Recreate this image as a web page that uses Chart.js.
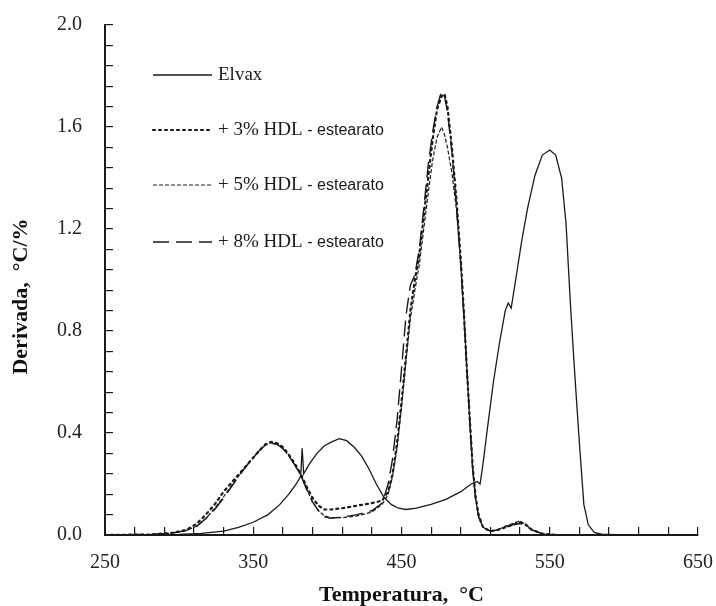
<!DOCTYPE html>
<html>
<head>
<meta charset="utf-8">
<script src="https://cdn.jsdelivr.net/npm/chart.js@4/dist/chart.umd.min.js"></script>
<style>
  html, body { margin: 0; padding: 0; background: #fff; }
  #wrap { width: 716px; height: 606px; }
</style>
</head>
<body>
<div id="wrap"><canvas id="dtgChart" width="716" height="606"></canvas></div>
<script>
// temperatures (°C) and derivative values (°C/%)
const elvaxT = [250, 280, 300, 315, 330, 340, 350, 360, 368, 374, 379, 382, 383, 384, 388, 393, 398, 403, 408, 413, 418, 423, 428, 433, 438, 443, 448, 453, 460, 470, 480, 490, 497, 501, 503, 505, 508, 512, 516, 520, 522, 524, 527, 531, 535, 540, 545, 550, 554, 558, 561, 564, 567, 570, 573, 576, 580, 585, 600, 650];
const elvaxV = [0, 0, 0.002, 0.006, 0.015, 0.03, 0.05, 0.08, 0.12, 0.16, 0.2, 0.23, 0.34, 0.24, 0.28, 0.32, 0.35, 0.365, 0.378, 0.37, 0.345, 0.31, 0.26, 0.2, 0.15, 0.12, 0.105, 0.1, 0.105, 0.12, 0.14, 0.17, 0.2, 0.21, 0.2, 0.28, 0.42, 0.6, 0.75, 0.88, 0.91, 0.89, 1.0, 1.15, 1.28, 1.41, 1.49, 1.51, 1.49, 1.4, 1.22, 0.9, 0.62, 0.36, 0.12, 0.04, 0.01, 0.003, 0, 0];

const blendT = [250, 280, 295, 305, 312, 318, 324, 330, 336, 342, 348, 354, 358, 362, 366, 370, 374, 378, 382, 386, 390, 394, 398, 402, 410, 420, 430, 437, 441, 444, 447, 450, 453, 456, 459, 462, 465, 468, 471, 474, 477, 479, 481, 484, 487, 490, 492, 494, 496, 498, 500, 502, 505, 510, 515, 520, 525, 530, 534, 538, 545, 555, 650];
const hdl3V = [0, 0.002, 0.008, 0.02, 0.045, 0.08, 0.12, 0.17, 0.21, 0.25, 0.29, 0.33, 0.355, 0.365, 0.36, 0.345, 0.315, 0.28, 0.24, 0.19, 0.145, 0.115, 0.1, 0.1, 0.105, 0.115, 0.125, 0.135, 0.17, 0.24, 0.36, 0.52, 0.7, 0.88, 1.0, 1.1, 1.25, 1.4, 1.55, 1.67, 1.72, 1.73, 1.68, 1.52, 1.32, 1.08, 0.88, 0.66, 0.46, 0.27, 0.15, 0.08, 0.03, 0.015, 0.02, 0.03, 0.04, 0.05, 0.04, 0.02, 0.005, 0, 0];
const hdl5V = [0, 0.002, 0.007, 0.018, 0.035, 0.065, 0.105, 0.15, 0.2, 0.245, 0.29, 0.33, 0.352, 0.362, 0.355, 0.34, 0.31, 0.275, 0.235, 0.18, 0.13, 0.095, 0.075, 0.068, 0.068, 0.075, 0.09, 0.12, 0.16, 0.23, 0.34, 0.5, 0.68, 0.85, 0.96, 1.06, 1.2, 1.34, 1.47, 1.56, 1.6, 1.57, 1.52, 1.42, 1.28, 1.06, 0.87, 0.66, 0.45, 0.26, 0.14, 0.07, 0.03, 0.015, 0.02, 0.035, 0.045, 0.055, 0.04, 0.02, 0.005, 0, 0];
const hdl8V = [0, 0.002, 0.007, 0.018, 0.035, 0.065, 0.1, 0.145, 0.195, 0.245, 0.29, 0.33, 0.352, 0.36, 0.356, 0.338, 0.31, 0.275, 0.235, 0.18, 0.13, 0.095, 0.072, 0.066, 0.07, 0.08, 0.095, 0.125, 0.2, 0.3, 0.45, 0.65, 0.86, 0.98, 1.02, 1.12, 1.28, 1.45, 1.58, 1.68, 1.74, 1.72, 1.66, 1.5, 1.3, 1.06, 0.87, 0.66, 0.46, 0.26, 0.14, 0.07, 0.03, 0.015, 0.02, 0.03, 0.04, 0.045, 0.035, 0.02, 0.005, 0, 0];

const seriesLabels = ['Elvax', '+ 3% HDL - estearato', '+ 5% HDL - estearato', '+ 8% HDL - estearato'];
const xTickLabels = [250, 350, 450, 550, 650];
const yTickLabels = [0.0, 0.4, 0.8, 1.2, 1.6, 2.0];

const ink = '#1a1a1a';

function toPoints(xs, ys) {
  return xs.map((x, i) => ({ x: x, y: ys[i] }));
}

// legend drawn inside the plot, like the original
const innerLegend = {
  id: 'innerLegend',
  afterDraw(chart) {
    const ctx = chart.ctx;
    const rows = [75, 130, 185, 242];
    ctx.save();
    chart.data.datasets.forEach((ds, i) => {
      const y = rows[i];
      ctx.strokeStyle = ds.borderColor;
      ctx.lineWidth = ds.borderWidth;
      ctx.setLineDash(ds.borderDash || []);
      ctx.lineCap = ds.borderCapStyle || 'butt';
      ctx.beginPath();
      ctx.moveTo(153, y);
      ctx.lineTo(212, y);
      ctx.stroke();

      const parts = ds.label.split(' - ');
      ctx.fillStyle = ink;
      ctx.textBaseline = 'middle';
      ctx.textAlign = 'left';
      ctx.font = '19px "Liberation Serif", serif';
      ctx.fillText(parts[0], 218, y);
      if (parts[1]) {
        const w = ctx.measureText(parts[0] + ' ').width;
        ctx.font = '16px "Liberation Sans", Arial, sans-serif';
        ctx.fillText('- ' + parts[1], 218 + w, y + 1);
      }
    });
    ctx.restore();
  }
};

const ctx = document.getElementById('dtgChart').getContext('2d');
new Chart(ctx, {
  type: 'line',
  data: {
    datasets: [{
      label: seriesLabels[0],
      data: toPoints(elvaxT, elvaxV),
      borderColor: ink,
      borderWidth: 1.3,
      borderDash: []
    }, {
      label: seriesLabels[1],
      data: toPoints(blendT, hdl3V),
      borderColor: ink,
      borderWidth: 2.2,
      borderDash: [2, 4],
      borderCapStyle: 'round'
    }, {
      label: seriesLabels[2],
      data: toPoints(blendT, hdl5V),
      borderColor: ink,
      borderWidth: 1.2,
      borderDash: [4, 2]
    }, {
      label: seriesLabels[3],
      data: toPoints(blendT, hdl8V),
      borderColor: ink,
      borderWidth: 1.4,
      borderDash: [16, 7]
    }]
  },
  options: {
    responsive: false,
    animation: false,
    elements: {
      point: { radius: 0 },
      line: { tension: 0, fill: false }
    },
    layout: { padding: { top: 25, right: 18, left: 0, bottom: 0 } },
    plugins: {
      legend: { display: false },
      tooltip: { enabled: false }
    },
    scales: {
      x: {
        type: 'linear',
        min: 250,
        max: 650,
        grid: { drawOnChartArea: false, tickLength: -8, color: ink, lineWidth: 1.2 },
        border: { color: ink, width: 2 },
        ticks: {
          stepSize: 20,
          autoSkip: false,
          maxRotation: 0,
          padding: 24,
          color: '#222',
          font: { family: '"Liberation Serif", serif', size: 20 },
          callback: (v) => xTickLabels.includes(v) ? String(v) : ''
        },
        title: {
          display: true,
          text: 'Temperatura,  °C',
          color: '#111',
          font: { family: '"Liberation Serif", serif', size: 22, weight: 'bold', lineHeight: 1 },
          padding: { top: 0, bottom: 0 }
        },
        afterFit: (s) => {
          s.height = 71;
          s.paddingLeft = 0;
          s.paddingRight = 0;
        }
      },
      y: {
        min: 0,
        max: 2.0,
        grid: { drawOnChartArea: false, tickLength: -8, color: ink, lineWidth: 1.2 },
        border: { color: ink, width: 2 },
        ticks: {
          stepSize: 0.08,
          autoSkip: false,
          padding: 31,
          color: '#222',
          font: { family: '"Liberation Serif", serif', size: 20 },
          callback: (v) => {
            const hit = yTickLabels.find((t) => Math.abs(t - v) < 1e-6);
            return hit !== undefined ? hit.toFixed(1) : '';
          }
        },
        title: {
          display: true,
          text: 'Derivada,  °C/%      ',
          color: '#111',
          font: { family: '"Liberation Serif", serif', size: 22, weight: 'bold' },
          padding: { top: 8, bottom: 0 }
        },
        afterFit: (s) => {
          s.width = 105;
          s.paddingTop = 0;
          s.paddingBottom = 0;
        }
      }
    }
  },
  plugins: [innerLegend]
});
</script>
</body>
</html>
